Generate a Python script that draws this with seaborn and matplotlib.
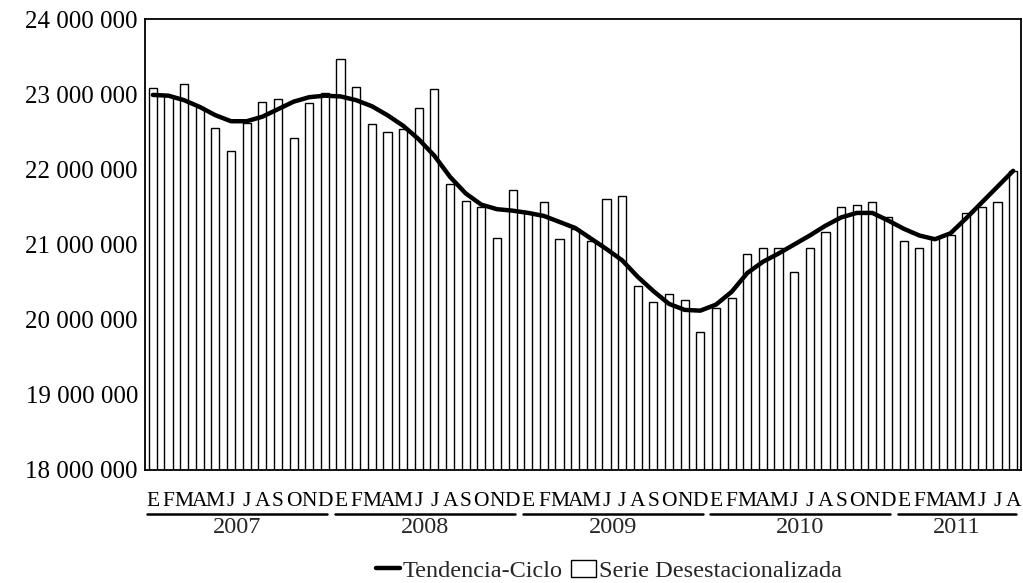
import numpy as np
import pandas as pd
import matplotlib
matplotlib.use("Agg")
import matplotlib.pyplot as plt
import seaborn as sns
from matplotlib.lines import Line2D
from matplotlib.patches import Patch
import matplotlib.transforms as mtransforms

years = ["2007", "2008", "2009", "2010", "2011"]
month_letters = ["E", "F", "M", "A", "M", "J", "J", "A", "S", "O", "N", "D"]

serie_desest = [
    23.08, 22.97, 23.13, 22.83, 22.55, 22.24, 22.62, 22.90, 22.94, 22.42, 22.88, 23.02,
    23.47, 23.09, 22.60, 22.50, 22.53, 22.81, 23.07, 21.80, 21.58, 21.50, 21.09, 21.72,
    21.42, 21.56, 21.07, 21.20, 21.04, 21.61, 21.64, 20.45, 20.23, 20.34, 20.26, 19.84,
    20.16, 20.29, 20.87, 20.95, 20.96, 20.64, 20.96, 21.17, 21.50, 21.53, 21.57, 21.37,
    21.05, 20.96, 21.08, 21.12, 21.42, 21.50, 21.57, 21.98,
]
tendencia = [
    22.99, 22.98, 22.92, 22.83, 22.72, 22.64, 22.64, 22.70, 22.80, 22.90, 22.96, 22.98,
    22.97, 22.92, 22.84, 22.72, 22.58, 22.40, 22.18, 21.90, 21.68, 21.53, 21.47, 21.45,
    21.42, 21.38, 21.30, 21.22, 21.08, 20.94, 20.79, 20.57, 20.38, 20.21, 20.13, 20.12,
    20.20, 20.37, 20.62, 20.77, 20.88, 21.00, 21.12, 21.25, 21.36, 21.42, 21.42, 21.32,
    21.21, 21.12, 21.07, 21.15, 21.35, 21.56, 21.77, 21.98,
]
months_per_year = [12, 12, 12, 12, 8]

n = len(serie_desest)
df = pd.DataFrame({
    "idx": np.arange(n),
    "serie": np.array(serie_desest) * 1e6,
    "tend": np.array(tendencia) * 1e6,
})
tick_labels = []
for y, m in zip(years, months_per_year):
    tick_labels += month_letters[:m]

sns.set_theme(style="white")
plt.rcParams["font.family"] = ["Liberation Serif", "DejaVu Serif"]

fig = plt.figure(figsize=(10.23, 5.83), dpi=100)
ax = fig.add_axes([145 / 1023, 1 - 470 / 583, (1021 - 145) / 1023, (470 - 19) / 583])

sns.barplot(data=df, x="idx", y="serie", color="white", edgecolor="black",
            linewidth=1.0, width=0.52, ax=ax, saturation=1)
sns.lineplot(data=df, x="idx", y="tend", color="black", linewidth=3.2, ax=ax)

ax.set_ylim(18e6, 24e6)
ax.set_xlim(-0.5, n - 0.5)
yt = np.arange(18e6, 24e6 + 1, 1e6)
ax.set_yticks(yt)
ax.set_yticklabels([f"{v:,.0f}".replace(",", " ") for v in yt], fontsize=18)
ax.set_xticks(np.arange(n))
ax.set_xticklabels(tick_labels, fontsize=15.5)
ax.tick_params(axis="x", direction="out", length=9.6, width=1.3, pad=6, colors="black")
ax.tick_params(axis="y", direction="out", length=3.6, width=1.3, pad=1.5, colors="black")
ax.set_xlabel("")
ax.set_ylabel("")
for s in ax.spines.values():
    s.set_visible(True)
    s.set_color("black")
    s.set_linewidth(1.3)

trans = mtransforms.blended_transform_factory(ax.transData, ax.transAxes)
start = 0
for y, m in zip(years, months_per_year):
    x0, x1 = start - 0.35, start + m - 1 + 0.15
    ax.add_line(Line2D([x0, x1], [-0.0976, -0.0976], transform=trans,
                       color="black", linewidth=1.8, clip_on=False))
    ax.text((x0 + x1) / 2, -0.1286, y, transform=trans, ha="center", va="center",
            fontsize=17.5)
    start += m

handles = [Line2D([0], [0], color="black", linewidth=3.2),
           Patch(facecolor="white", edgecolor="black", linewidth=1.0)]
fig.legend(handles, ["Tendencia-Ciclo", "Serie Desestacionalizada"], loc="lower center",
           bbox_to_anchor=(0.595, -0.035), ncol=2, frameon=False, fontsize=17.5,
           handlelength=1.0, handletextpad=0.12, columnspacing=0.35)

fig.savefig("out.png", dpi=100)
